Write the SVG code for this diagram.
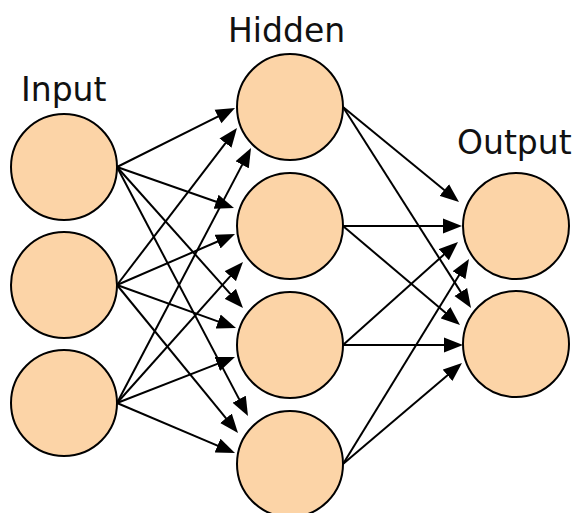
<svg xmlns="http://www.w3.org/2000/svg" width="577" height="513" viewBox="0 0 577 513">
<defs>
<style>
.node{fill:#fcd4a7;stroke:#000;stroke-width:2}
.lbl{font-family:"DejaVu Sans",sans-serif;font-size:33px;fill:#111}
.edge{stroke:#000;stroke-width:2;fill:none;marker-end:url(#arr)}
</style>
<marker id="arr" markerUnits="userSpaceOnUse" markerWidth="19" markerHeight="16" refX="7" refY="8" orient="auto">
<path d="M0,0.5 L19,8 L0,15.5 z" fill="#000"/>
</marker>
</defs>
<rect width="577" height="513" fill="#fff"/>
<g id="connectors">
<line class="edge" x1="117" y1="167" x2="224.26" y2="113.37"/>
<line class="edge" x1="117" y1="167" x2="222.68" y2="204.03"/>
<line class="edge" x1="117" y1="167" x2="235.0" y2="299.05"/>
<line class="edge" x1="117" y1="167" x2="242.41" y2="405.38"/>
<line class="edge" x1="117" y1="285" x2="229.71" y2="137.53"/>
<line class="edge" x1="117" y1="285" x2="223.98" y2="238.76"/>
<line class="edge" x1="117" y1="285" x2="224.71" y2="323.92"/>
<line class="edge" x1="117" y1="285" x2="230.41" y2="423.71"/>
<line class="edge" x1="117" y1="403" x2="245.42" y2="158.62"/>
<line class="edge" x1="117" y1="403" x2="235.0" y2="270.95"/>
<line class="edge" x1="117" y1="403" x2="223.81" y2="361.36"/>
<line class="edge" x1="117" y1="403" x2="223.95" y2="448.32"/>
<line class="edge" x1="343" y1="107" x2="449.72" y2="194.40"/>
<line class="edge" x1="343" y1="107" x2="464.55" y2="297.88"/>
<line class="edge" x1="343" y1="226" x2="450" y2="226"/>
<line class="edge" x1="343" y1="226" x2="450.84" y2="317.25"/>
<line class="edge" x1="343" y1="345" x2="449.06" y2="250.01"/>
<line class="edge" x1="343" y1="345" x2="451" y2="345"/>
<line class="edge" x1="343" y1="464" x2="462.72" y2="269.22"/>
<line class="edge" x1="343" y1="464" x2="452.85" y2="370.76"/>
</g>
<g id="label-input"><text class="lbl" x="21" y="101">Input</text></g>
<g id="label-hidden"><text class="lbl" x="228" y="42">Hidden</text></g>
<g id="label-output"><text class="lbl" x="457" y="154">Output</text></g>
<g id="input1"><circle class="node" cx="64" cy="167" r="53"/></g>
<g id="input2"><circle class="node" cx="64" cy="285" r="53"/></g>
<g id="input3"><circle class="node" cx="64" cy="403" r="53"/></g>
<g id="hidden1"><circle class="node" cx="290" cy="107" r="53"/></g>
<g id="hidden2"><circle class="node" cx="290" cy="226" r="53"/></g>
<g id="hidden3"><circle class="node" cx="290" cy="345" r="53"/></g>
<g id="hidden4"><circle class="node" cx="290" cy="464" r="53"/></g>
<g id="output1"><circle class="node" cx="516" cy="226" r="53"/></g>
<g id="output2"><circle class="node" cx="516" cy="344" r="53"/></g>
</svg>
